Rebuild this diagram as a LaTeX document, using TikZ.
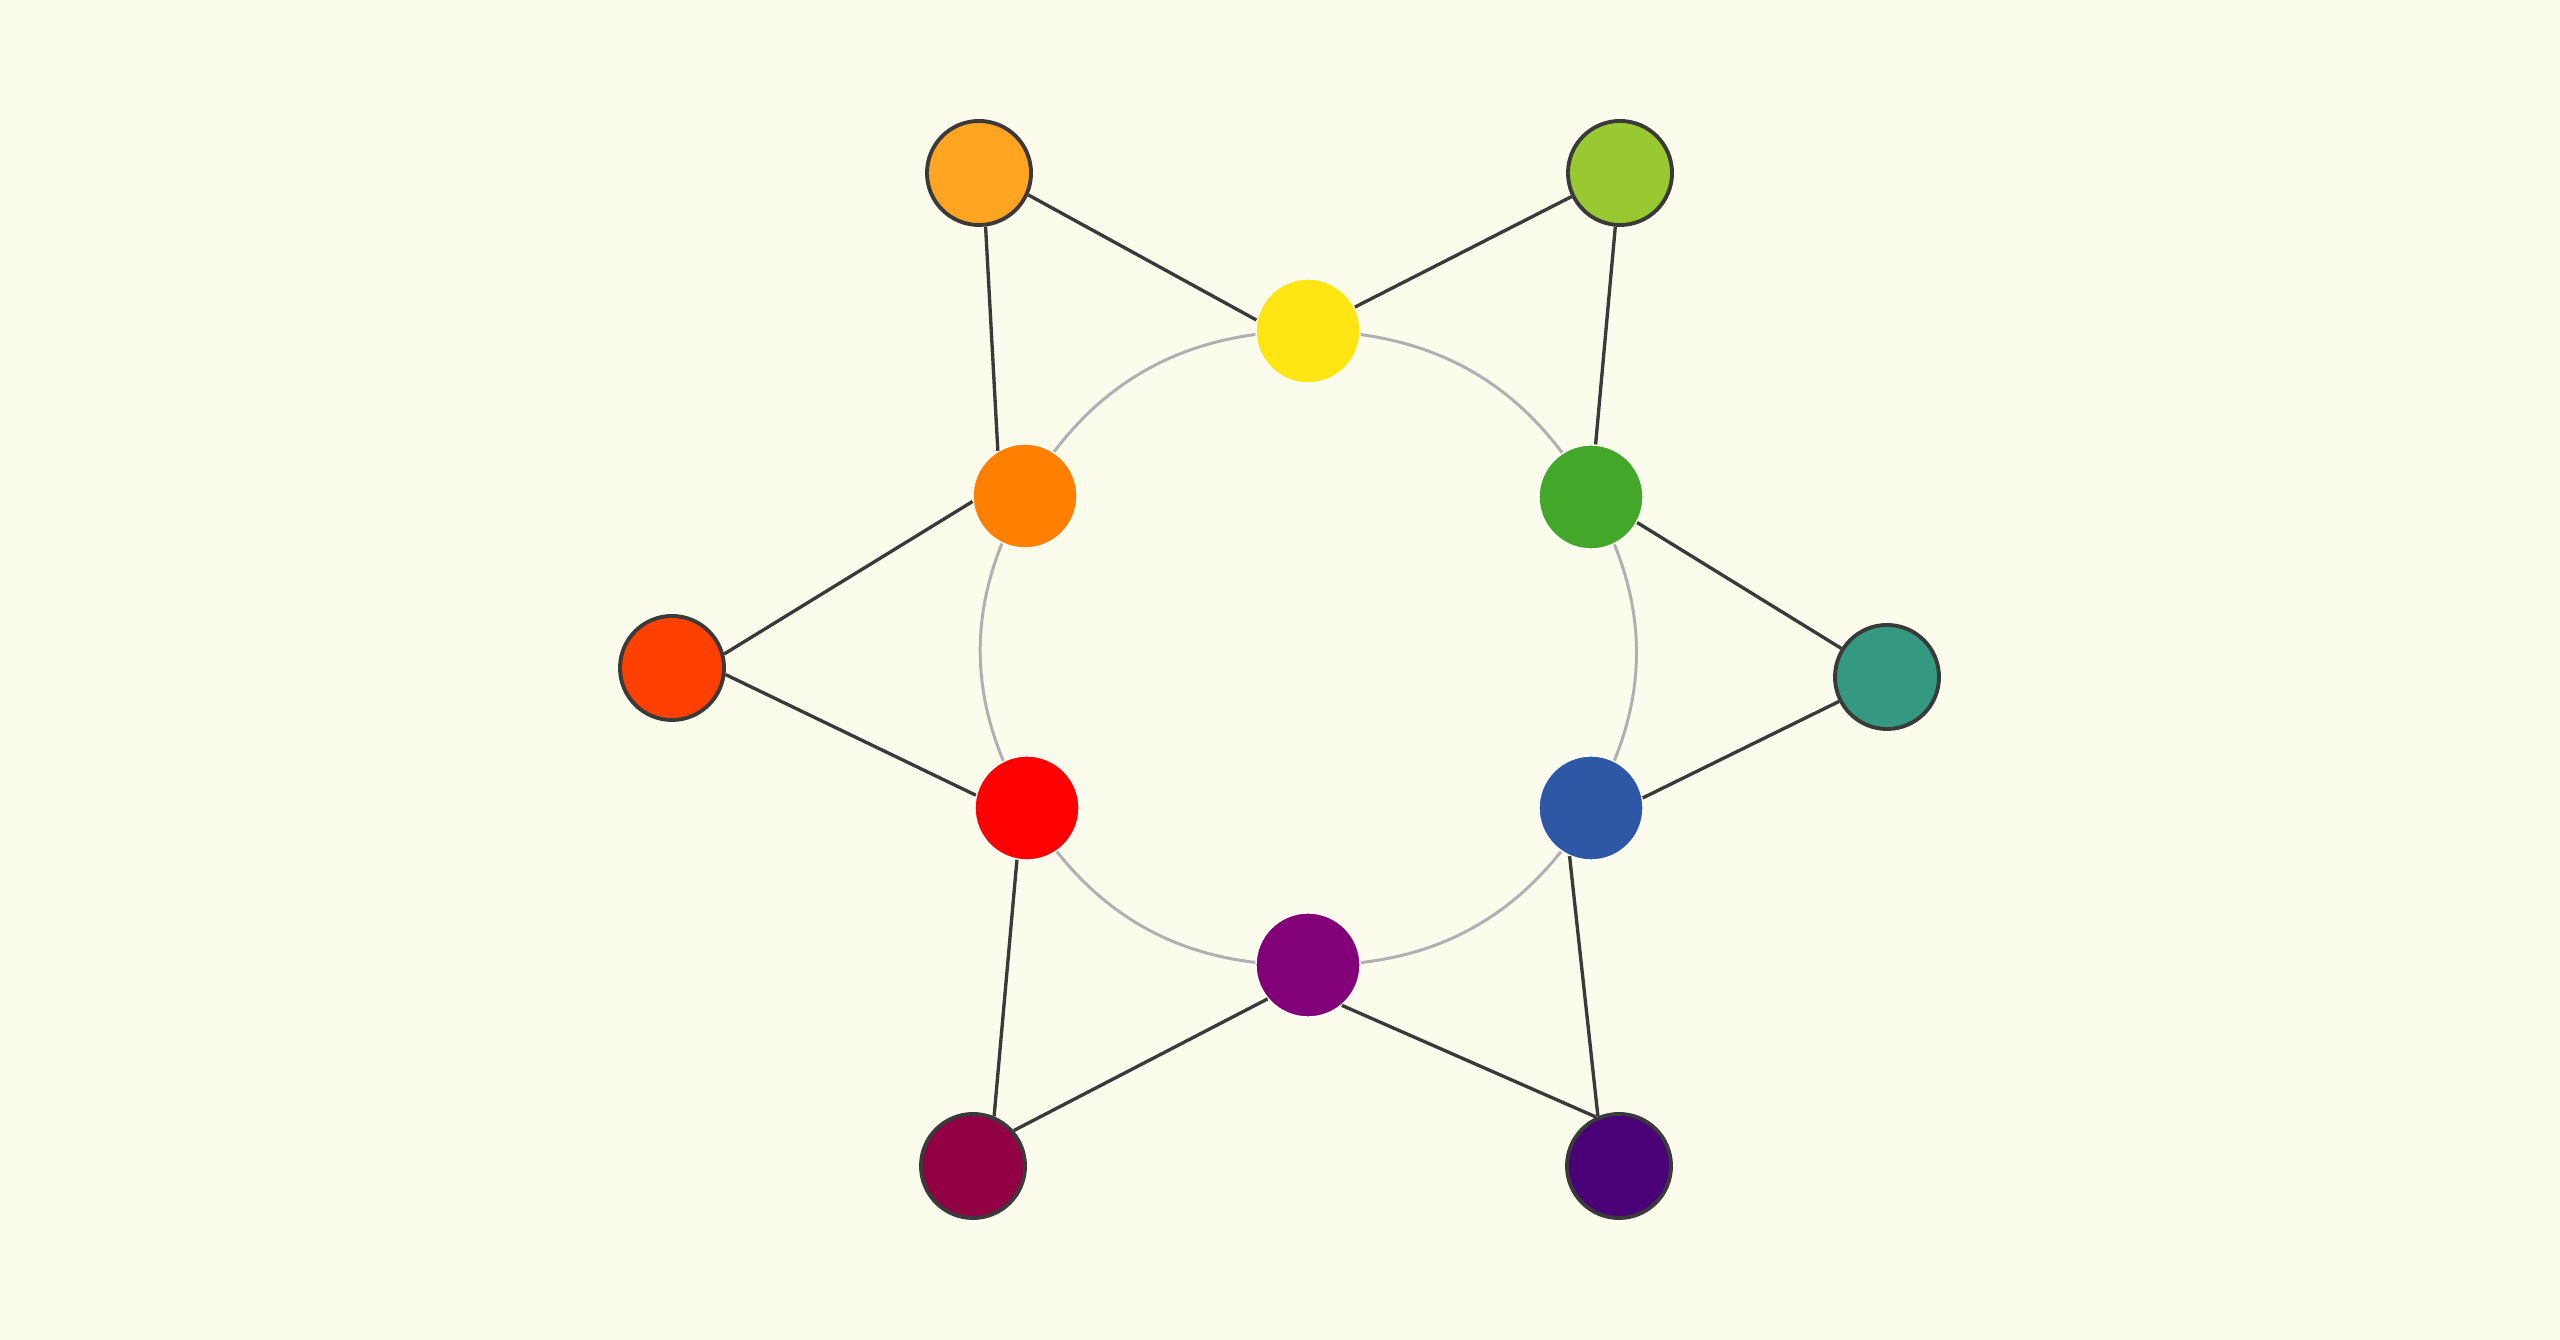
\documentclass[tikz,border=0pt]{standalone}
\usepackage{xcolor}
\usetikzlibrary{backgrounds}
\definecolor{bgcream}{HTML}{FBFCEC}
\definecolor{spokegray}{HTML}{3A3A3A}
\definecolor{ringgray}{HTML}{B0B0B0}
\definecolor{cyellow}{HTML}{FFE511}
\definecolor{corange}{HTML}{FF7F00}
\definecolor{cgreen}{HTML}{43A72A}
\definecolor{cred}{HTML}{FF0000}
\definecolor{cblue}{HTML}{2E58A6}
\definecolor{cpurple}{HTML}{820078}
\definecolor{clorange}{HTML}{FFA521}
\definecolor{cygreen}{HTML}{99C930}
\definecolor{crorange}{HTML}{FF4000}
\definecolor{cteal}{HTML}{349980}
\definecolor{ccrimson}{HTML}{920044}
\definecolor{cindigo}{HTML}{4A0077}
\tikzset{
    wheelnode/.style={circle, minimum size=1.04cm, inner sep=0pt},
    innernode/.style={wheelnode, draw=white!60!bgcream, line width=0.4pt},
    outernode/.style={wheelnode, draw=spokegray, line width=1.1pt},
    spoke/.style={draw=spokegray, line width=0.95pt},
    ringedge/.style={draw=ringgray, line width=0.85pt, bend left=30}
}

\begin{document}
\begin{tikzpicture}[x=0.01cm, y=0.01cm]
    \useasboundingbox (0,0) rectangle (2560,1340);

    \foreach \n/\x/\y/\c in {yel/1308/1009/cyellow, grn/1591/843/cgreen,
            blu/1591/532/cblue, pur/1308/375/cpurple,
            red/1027/532/cred, org/1025/844/corange} {
        \node[innernode, fill=\c] (\n) at (\x,\y) {};
    }
    \foreach \n/\x/\y/\c in {lorg/979/1167/clorange, ygrn/1620/1167/cygreen,
            torg/672/672/crorange, teal/1887/663/cteal,
            crim/973/174/ccrimson, indi/1619/174/cindigo} {
        \node[outernode, fill=\c] (\n) at (\x,\y) {};
    }

    \begin{pgfonlayer}{background}
        \fill[bgcream] (0,0) rectangle (2560,1340);
        \foreach \a/\b in {yel/grn, grn/blu, blu/pur, pur/red, red/org, org/yel} {
            \draw[ringedge] (\a.center) to (\b.center);
        }
    \end{pgfonlayer}

    \foreach \a/\b in {lorg.-24/yel.168, lorg.-83/org.121,
            ygrn.206/yel.27, ygrn.265/grn.85,
            torg.15/org.186, torg.-7/red.166,
            teal.148/grn.-29, teal.207/blu.11,
            crim.67/red.-101, crim.41/pur.220,
            indi.115/pur.-50, indi.113/blu.-114} {
        \draw[spoke] (\a) -- (\b);
    }
\end{tikzpicture}
\end{document}
